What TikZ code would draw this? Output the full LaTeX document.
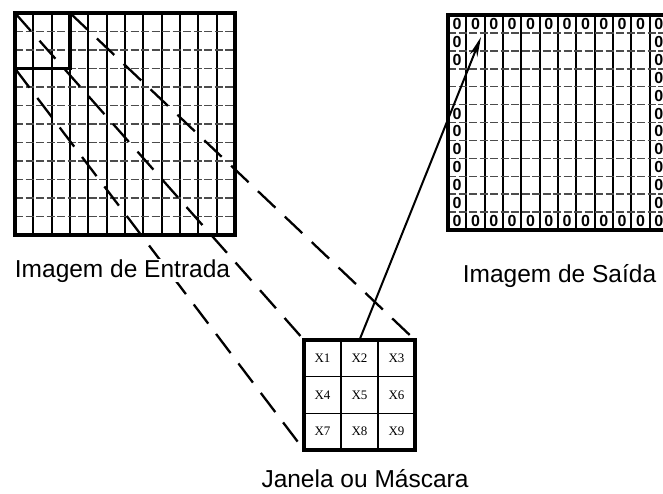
\documentclass[tikz,border=0pt]{standalone}
\usepackage{fontspec}
\setmainfont{Liberation Sans}
\newfontfamily\cellfont{Liberation Serif}
\usetikzlibrary{arrows.meta}

\begin{document}
\begin{tikzpicture}[x=1pt,y=-1pt,
  frame/.style={draw, line width=3.6pt, inner sep=0pt, outer sep=0pt, anchor=north west},
  vline/.style={line width=2pt},
  hline/.style={line width=1.5pt, black!70, dash pattern=on 8pt off 2.5pt},
  gline/.style={line width=1.6pt},
  proj/.style={line width=2.3pt, dash pattern=on 24pt off 13pt},
  zero/.style={font=\bfseries\fontsize{16}{16}\selectfont, inner sep=0pt},
  caption/.style={font=\fontsize{24.5}{28}\selectfont, anchor=base, inner sep=0pt, fill=white},
  cell/.style={font=\cellfont\fontsize{13}{13}\selectfont, inner sep=0pt}
]
\useasboundingbox (0,0) rectangle (663,493);

% ---- input image: 12 x 12 grid with the 3 x 3 window in its corner
\foreach \k in {1,...,11}
  \draw[vline] ({15+\k*220/12},13) -- ({15+\k*220/12},235);
\foreach \k in {1,...,11}
  \draw[hline] (15,{13+\k*222/12}) -- (235,{13+\k*222/12});
\node[frame, minimum width=220pt, minimum height=222pt] (in) at (15,13) {};
\node[frame, minimum width=55pt, minimum height=55.5pt] (win) at (15,13) {};

% ---- output image: 12 x 12 grid, border cells set to zero
\foreach \k in {1,...,11}
  \draw[vline] ({448+\k*220/12},15) -- ({448+\k*220/12},230);
\foreach \k in {1,...,11}
  \draw[hline] (448,{15+\k*215/12}) -- (668,{15+\k*215/12});
\node[frame, minimum width=220pt, minimum height=215pt] (out) at (448,15) {};
\foreach \c in {1,...,12} {
  \node[zero] at ({448+(\c-0.5)*220/12},{15+0.5*215/12}) {0};
  \node[zero] at ({448+(\c-0.5)*220/12},{15+11.5*215/12}) {0};
}
\foreach \r in {2,3,6,7,8,9,10,11}
  \node[zero] at ({448+0.5*220/12},{15+(\r-0.5)*215/12}) {0};
\foreach \r in {2,...,11}
  \node[zero] at ({448+11.5*220/12},{15+(\r-0.5)*215/12}) {0};
\coordinate (tip) at (481,37);

% ---- mask / window
\node[frame, minimum width=111pt, minimum height=110pt] (mask) at (304,340) {};
\foreach \k in {1,2} {
  \draw[gline] ({304+\k*37},340) -- ({304+\k*37},450);
  \draw[gline] (304,{340+\k*110/3}) -- (415,{340+\k*110/3});
}
\foreach \r in {0,1,2}
  \foreach \c in {0,1,2} {
    \pgfmathtruncatemacro{\n}{3*\r+\c+1}
    \node[cell] at ({304+(\c+0.5)*37},{340+(\r+0.5)*110/3}) {X\n};
  }

% ---- projection of the window onto the mask
\draw[proj] (win.north west) -- (mask.north west);
\draw[proj] (win.north east) -- (mask.north east);
\draw[proj] (win.south west) -- (mask.south west);

% ---- result written back into the output image
\draw[line width=2pt, -{Stealth[length=20pt, width=8pt]}] (mask.north) -- (tip);

% ---- captions
\node[caption] (lin) at (122.5,277) {Imagem de Entrada};
\node[caption] (lout) at (559.5,282) {Imagem de Saída};
\node[caption] (lmask) at (365,487) {Janela ou Máscara};
\end{tikzpicture}
\end{document}
